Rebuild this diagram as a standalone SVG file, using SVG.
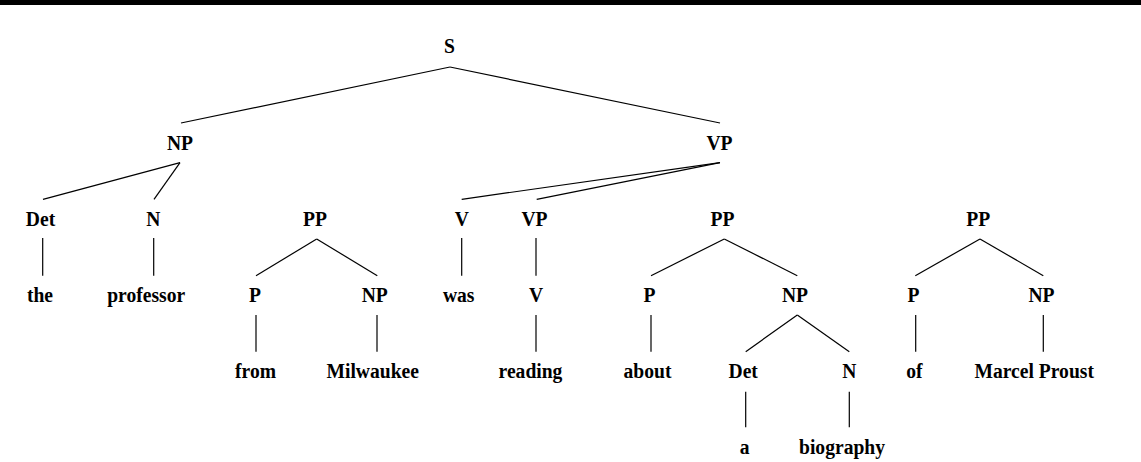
<svg xmlns="http://www.w3.org/2000/svg" width="1141" height="462" viewBox="0 0 1141 462">
<style>
text{font-family:"Liberation Serif","Times New Roman",serif;font-weight:bold;font-size:19.6px;fill:#000;text-anchor:middle}
.e{stroke:#000;stroke-width:1.2;fill:none}
</style>
<rect x="0" y="0" width="1141" height="5" fill="#000"/>
<g id="connectors" class="e">
<line x1="450" y1="67" x2="181" y2="123"/>
<line x1="450" y1="67" x2="720" y2="123"/>
<line x1="180" y1="162.7" x2="43" y2="199.3"/>
<line x1="180" y1="162.7" x2="154" y2="199.3"/>
<line x1="720" y1="162.7" x2="461.7" y2="199.3"/>
<line x1="720" y1="162.7" x2="536.7" y2="199.3"/>
<line x1="42.7" y1="238" x2="42.7" y2="275.7"/>
<line x1="153.7" y1="238" x2="153.7" y2="275.7"/>
<line x1="316.7" y1="239" x2="256" y2="275.7"/>
<line x1="316.7" y1="239" x2="377.3" y2="275.7"/>
<line x1="461.7" y1="238" x2="461.7" y2="275.7"/>
<line x1="536" y1="238" x2="536" y2="275.7"/>
<line x1="724.3" y1="239" x2="651" y2="275.7"/>
<line x1="724.3" y1="239" x2="797.3" y2="275.7"/>
<line x1="980" y1="239" x2="915.3" y2="275.7"/>
<line x1="980" y1="239" x2="1043.3" y2="275.7"/>
<line x1="256" y1="315" x2="256" y2="351.7"/>
<line x1="377" y1="315" x2="377" y2="351.7"/>
<line x1="536" y1="315" x2="536" y2="351.7"/>
<line x1="651" y1="315" x2="651" y2="351.7"/>
<line x1="797.3" y1="315" x2="745.7" y2="351.7"/>
<line x1="797.3" y1="315" x2="849.3" y2="351.7"/>
<line x1="915.7" y1="315" x2="915.7" y2="351.7"/>
<line x1="1043.3" y1="315" x2="1043.3" y2="351.7"/>
<line x1="745.7" y1="391.7" x2="745.7" y2="427.3"/>
<line x1="849.3" y1="391.7" x2="849.3" y2="427.3"/>
</g>
<g id="n-S" transform="translate(449.5,53) scale(1,1.08)"><text>S</text></g>
<g id="n-NP1" transform="translate(180,150) scale(1,1.08)"><text>NP</text></g>
<g id="n-VP1" transform="translate(719.5,150) scale(1,1.08)"><text>VP</text></g>
<g id="n-Det1" transform="translate(40.5,226) scale(1,1.08)"><text>Det</text></g>
<g id="n-N1" transform="translate(153.3,226) scale(1,1.08)"><text>N</text></g>
<g id="n-PP1" transform="translate(315,226) scale(1,1.08)"><text>PP</text></g>
<g id="n-V1" transform="translate(461.7,226) scale(1,1.08)"><text>V</text></g>
<g id="n-VP2" transform="translate(534.5,226) scale(1,1.08)"><text>VP</text></g>
<g id="n-PP2" transform="translate(722.5,226) scale(1,1.08)"><text>PP</text></g>
<g id="n-PP3" transform="translate(978.3,226) scale(1,1.08)"><text>PP</text></g>
<g id="n-the" transform="translate(40,302) scale(1,1.08)"><text>the</text></g>
<g id="n-professor" transform="translate(146.2,302) scale(1,1.08)"><text>professor</text></g>
<g id="n-P1" transform="translate(255,302) scale(1,1.08)"><text>P</text></g>
<g id="n-NP2" transform="translate(374.7,302) scale(1,1.08)"><text>NP</text></g>
<g id="n-was" transform="translate(458.7,302) scale(1,1.08)"><text>was</text></g>
<g id="n-V2" transform="translate(536,302) scale(1,1.08)"><text>V</text></g>
<g id="n-P2" transform="translate(649.5,302) scale(1,1.08)"><text>P</text></g>
<g id="n-NP3" transform="translate(795,302) scale(1,1.08)"><text>NP</text></g>
<g id="n-P3" transform="translate(913.5,302) scale(1,1.08)"><text>P</text></g>
<g id="n-NP4" transform="translate(1041.5,302) scale(1,1.08)"><text>NP</text></g>
<g id="n-from" transform="translate(255.5,378) scale(1,1.08)"><text>from</text></g>
<g id="n-Milwaukee" transform="translate(372.7,378) scale(1,1.08)"><text>Milwaukee</text></g>
<g id="n-reading" transform="translate(530.5,378) scale(1,1.08)"><text>reading</text></g>
<g id="n-about" transform="translate(647.5,378) scale(1,1.08)"><text>about</text></g>
<g id="n-Det2" transform="translate(743.2,378) scale(1,1.08)"><text>Det</text></g>
<g id="n-N2" transform="translate(849.3,378) scale(1,1.08)"><text>N</text></g>
<g id="n-of" transform="translate(914.3,378) scale(1,1.08)"><text>of</text></g>
<g id="n-MarcelProust" transform="translate(1034.2,378) scale(1,1.08)"><text>Marcel Proust</text></g>
<g id="n-a" transform="translate(744.7,454) scale(1,1.08)"><text>a</text></g>
<g id="n-biography" transform="translate(842,454) scale(1,1.08)"><text>biography</text></g>
</svg>
